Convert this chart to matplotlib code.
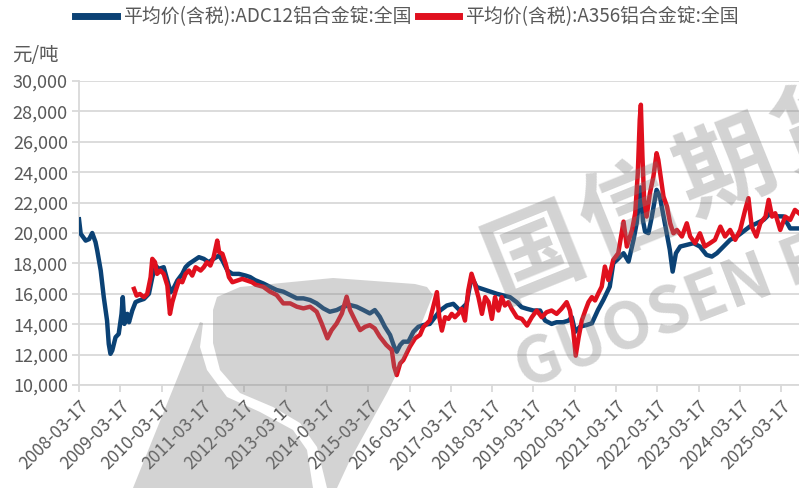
import matplotlib.pyplot as plt
import matplotlib.patches as mpatches
import pandas as pd

plt.rcParams['font.family'] = ['Noto Sans CJK SC', 'DejaVu Sans']

# ── Series: ADC12 alloy ingot, national average incl. tax (元/吨) ─────────────
adc_dates = [
    "2008-03-17", "2008-04-01", "2008-05-15", "2008-06-15", "2008-07-12", "2008-08-10",
    "2008-08-25", "2008-09-25", "2008-10-22", "2008-11-20", "2008-12-05", "2008-12-20",
    "2009-01-05", "2009-02-03", "2009-03-03", "2009-03-28", "2009-04-08", "2009-04-22",
    "2009-05-18", "2009-06-02", "2009-07-01", "2009-07-30", "2009-08-28", "2009-10-12",
    "2009-11-25", "2009-12-25", "2010-01-22", "2010-02-20", "2010-04-05", "2010-05-07",
    "2010-06-05", "2010-07-05", "2010-08-03", "2010-09-16", "2010-10-15", "2010-11-14",
    "2010-12-28", "2011-02-10", "2011-03-25", "2011-05-08", "2011-06-20", "2011-08-08",
    "2011-09-06", "2011-10-20", "2011-12-03", "2012-01-30", "2012-03-28", "2012-05-08",
    "2012-06-20", "2012-09-01", "2012-10-30", "2012-12-28", "2013-02-25", "2013-04-27",
    "2013-06-25", "2013-08-22", "2013-10-20", "2013-12-17", "2014-02-14", "2014-04-12",
    "2014-06-12", "2014-08-10", "2014-10-08", "2014-12-05", "2015-02-03", "2015-04-01",
    "2015-05-15", "2015-06-28", "2015-08-12", "2015-09-27", "2015-11-02", "2015-11-25",
    "2015-12-25", "2016-01-22", "2016-03-07", "2016-04-20", "2016-06-03", "2016-07-16",
    "2016-09-12", "2016-12-12", "2017-02-10", "2017-04-08", "2017-06-05", "2017-08-03",
    "2017-09-16", "2017-11-02", "2017-12-17", "2018-01-30", "2018-03-15", "2018-04-28",
    "2018-06-25", "2018-08-22", "2018-10-20", "2018-12-03", "2019-01-20", "2019-03-17",
    "2019-05-15", "2019-06-28", "2019-08-25", "2019-10-08", "2019-12-05", "2020-01-22",
    "2020-02-20", "2020-03-20", "2020-05-03", "2020-07-01", "2020-08-15", "2020-10-08",
    "2020-11-25", "2021-01-20", "2021-02-20", "2021-03-25", "2021-05-22", "2021-07-05",
    "2021-08-18", "2021-09-15", "2021-10-18", "2021-11-10", "2021-11-28", "2021-12-28",
    "2022-01-25", "2022-03-10", "2022-04-08", "2022-05-22", "2022-07-05", "2022-07-30",
    "2022-08-28", "2022-10-05", "2022-12-02", "2023-01-30", "2023-03-28", "2023-05-25",
    "2023-07-12", "2023-08-25", "2023-10-22", "2023-12-20", "2024-02-17", "2024-04-15",
    "2024-06-12", "2024-08-14", "2024-10-12", "2024-12-10", "2025-02-06", "2025-04-05",
    "2025-06-03", "2025-08-20",
]
adc_vals = [
    20900, 19950, 19500, 19600, 20000, 19400,
    18850, 17530, 15780, 14240, 12700, 12050,
    12270, 13140, 13360, 14680, 15780, 14020,
    14680, 14130, 14900, 15450, 15550, 15660,
    16000, 17090, 17860, 17640, 17750, 16870,
    16100, 16430, 16870, 17310, 17750, 17970,
    18190, 18410, 18300, 18080, 18300, 18520,
    18190, 17530, 17310, 17310, 17200, 17100,
    16900, 16680, 16460, 16250, 16140, 15920,
    15700, 15700, 15590, 15370, 15040, 14820,
    14930, 15150, 15260, 15150, 14930, 14710,
    14930, 14490, 13830, 13290, 12520, 12190,
    12630, 12850, 12850, 13500, 13830, 13940,
    14020, 14900, 15230, 15340, 14900, 15340,
    17100, 16440, 16330, 16220, 16110, 16000,
    15890, 15780, 15450, 15120, 15010, 14900,
    14900, 14240, 14020, 14130, 14130, 14240,
    14460, 13500, 13840, 13950, 14060, 14940,
    15600, 16470, 18010, 18230, 18670, 18120,
    19550, 20650, 23000, 20800, 20100, 19990,
    21000, 22840, 22400, 20650, 18890, 17460,
    18670, 19110, 19220, 19330, 19110, 18560,
    18450, 18670, 19110, 19550, 19770, 20100,
    20430, 20650, 20870, 21300, 21100, 21090,
    20300, 20300,
]

# ── Series: A356 alloy ingot, national average incl. tax (元/吨) ──────────────
a356_dates = [
    "2009-07-16", "2009-08-08", "2009-09-06", "2009-10-12", "2009-11-10", "2009-12-10",
    "2009-12-25", "2010-01-18", "2010-02-05", "2010-03-07", "2010-04-05", "2010-05-07",
    "2010-05-30", "2010-06-20", "2010-07-20", "2010-08-18", "2010-09-16", "2010-10-15",
    "2010-11-14", "2010-12-13", "2011-01-12", "2011-02-25", "2011-03-25", "2011-04-22",
    "2011-05-22", "2011-06-20", "2011-07-22", "2011-08-08", "2011-09-06", "2011-10-05",
    "2011-11-03", "2011-12-03", "2012-01-15", "2012-02-28", "2012-04-12", "2012-05-25",
    "2012-06-25", "2012-09-01", "2012-10-30", "2012-12-28", "2013-02-25", "2013-04-27",
    "2013-06-25", "2013-08-22", "2013-10-20", "2013-12-17", "2014-01-30", "2014-03-22",
    "2014-04-28", "2014-06-12", "2014-07-28", "2014-09-08", "2014-10-08", "2014-11-20",
    "2015-01-05", "2015-02-18", "2015-04-01", "2015-05-15", "2015-06-28", "2015-08-25",
    "2015-10-12", "2015-11-02", "2015-11-25", "2015-12-25", "2016-01-22", "2016-02-20",
    "2016-03-20", "2016-05-05", "2016-06-18", "2016-07-16", "2016-08-14", "2016-09-12",
    "2016-11-14", "2016-12-05", "2016-12-28", "2017-01-25", "2017-02-25", "2017-03-25",
    "2017-04-22", "2017-05-22", "2017-06-20", "2017-07-20", "2017-08-18", "2017-09-16",
    "2017-10-15", "2017-11-16", "2017-12-17", "2018-01-15", "2018-02-14", "2018-03-15",
    "2018-04-12", "2018-05-12", "2018-06-10", "2018-07-08", "2018-08-08", "2018-09-06",
    "2018-10-22", "2018-12-05", "2019-01-20", "2019-03-03", "2019-04-15", "2019-05-30",
    "2019-07-12", "2019-08-25", "2019-10-08", "2019-11-20", "2020-01-05", "2020-02-03",
    "2020-03-03", "2020-03-25", "2020-04-20", "2020-05-18", "2020-06-18", "2020-07-16",
    "2020-08-15", "2020-09-12", "2020-10-12", "2020-11-10", "2020-12-08", "2021-01-08",
    "2021-02-20", "2021-04-05", "2021-05-22", "2021-06-20", "2021-08-05", "2021-09-02",
    "2021-09-25", "2021-10-12", "2021-10-22", "2021-11-05", "2021-11-20", "2021-12-12",
    "2022-01-10", "2022-02-10", "2022-03-10", "2022-03-25", "2022-04-15", "2022-05-10",
    "2022-06-10", "2022-07-08", "2022-08-06", "2022-09-05", "2022-10-20", "2022-12-02",
    "2023-01-01", "2023-02-14", "2023-03-28", "2023-05-10", "2023-06-25", "2023-08-08",
    "2023-09-25", "2023-11-05", "2023-12-20", "2024-02-03", "2024-03-18", "2024-05-01",
    "2024-05-30", "2024-06-28", "2024-08-08", "2024-09-12", "2024-10-28", "2024-11-25",
    "2024-12-25", "2025-01-22", "2025-03-07", "2025-04-20", "2025-06-03", "2025-07-15",
    "2025-08-20",
]
a356_vals = [
    16325, 15880, 15990, 15780, 15990, 17090,
    18300, 18080, 17310, 17530, 17310, 16540,
    14680, 15450, 16210, 16870, 16760, 17310,
    17530, 17200, 17750, 17530, 17750, 18080,
    17860, 18410, 19500, 18740, 18630, 17970,
    17090, 16760, 16870, 16980, 16870, 16760,
    16600, 16460, 16140, 15920, 15370, 15370,
    15150, 15040, 15150, 14820, 14050, 13070,
    13610, 14050, 14710, 15810, 14930, 14270,
    13610, 13830, 13940, 13720, 13180, 12630,
    12300, 11200, 10650, 11420, 11640, 12080,
    12520, 13070, 13300, 13800, 14020, 14240,
    16110, 14460, 13580, 14460, 14350, 14680,
    14460, 14680, 15010, 14240, 16220, 17320,
    16660, 15780, 14680, 15780, 15450, 14350,
    15780, 14900, 15780, 15230, 15450, 15010,
    14460, 14350, 13910, 14460, 14900, 14460,
    14790, 14900, 14680, 15010, 15450, 14900,
    13580, 11930, 13140, 14240, 14900, 15450,
    15780, 15560, 16040, 16470, 17790, 16910,
    18230, 18670, 20750, 19110, 20200, 21300,
    23940, 27450, 28440, 25030, 22180, 21080,
    22620, 23720, 25250, 24820, 23720, 22400,
    21740, 20640, 19980, 20200, 19770, 20640,
    19770, 19330, 19980, 19110, 19330, 19550,
    20420, 19770, 20200, 19550, 20200, 21520,
    22290, 20420, 19770, 20640, 21080, 22180,
    21080, 21300, 20200, 21080, 20860, 21520,
    21300,
]

tick_labels = [f"{y}-03-17" for y in range(2008, 2026)]
y_ticks = list(range(10000, 30001, 2000))

adc_x = pd.to_datetime(adc_dates)
a356_x = pd.to_datetime(a356_dates)
tick_x = pd.to_datetime(tick_labels)

# ── Figure ────────────────────────────────────────────────────────────────────
W, H = 799, 488
fig = plt.figure(figsize=(W / 100, H / 100), dpi=100)
ax = fig.add_axes([79 / W, 1 - 385 / H, 1 - 79 / W, (385 - 81) / H])

grey_txt = "#595959"
grid_c = "#d9d9d9"

l1, = ax.plot(adc_x, adc_vals, color="#0b4275", lw=3.2, solid_joinstyle="round",
              label="平均价(含税):ADC12铝合金锭:全国", zorder=3)
l2, = ax.plot(a356_x, a356_vals, color="#e0101e", lw=3.2, solid_joinstyle="round",
              label="平均价(含税):A356铝合金锭:全国", zorder=4)

ax.set_xlim(pd.Timestamp("2008-03-17"), pd.Timestamp("2025-08-20"))
ax.set_ylim(10000, 30000)
ax.set_yticks(y_ticks)
ax.set_yticklabels([f"{v:,}" for v in y_ticks])
ax.set_xticks(tick_x)
ax.set_xticklabels(tick_labels, rotation=45, ha="right", rotation_mode="anchor")

ax.grid(axis="y", color=grid_c, lw=1.3)
ax.set_axisbelow(True)
for s in ["top", "right"]:
    ax.spines[s].set_visible(False)
for s in ["left", "bottom"]:
    ax.spines[s].set_color(grid_c)
    ax.spines[s].set_linewidth(1.3)
ax.tick_params(axis="both", colors=grid_c, labelcolor=grey_txt,
               length=5, width=1.3)
ax.tick_params(axis="x", pad=4, labelsize=12.5)
ax.tick_params(axis="y", pad=3, labelsize=13)

fig.text(12 / W, 1 - 55 / H, "元/吨", fontsize=14, color=grey_txt, va="center")

fig.legend(handles=[l1, l2], loc="center", bbox_to_anchor=(407 / W, 1 - 17 / H),
           ncol=2, frameon=False, fontsize=13.6, labelcolor=grey_txt,
           handlelength=2.2, handletextpad=0.3, columnspacing=0.35,
           borderaxespad=0, handleheight=0.5)
for h in fig.legends[0].legend_handles:
    h.set_linewidth(5)

# ── Watermark: logo and company name ──────────────────────────────────────────
wm_c, wm_a = "#7f7f7f", 0.34
wm = dict(facecolor=wm_c, edgecolor="none", alpha=wm_a, zorder=10,
          transform=fig.transFigure)

def to_fig(pts):
    return [(x / W, 1 - y / H) for x, y in pts]

left_piece = [(200, 322), (203, 323), (200, 347), (207, 370), (227, 397),
              (260, 412), (293, 430), (307, 450), (313, 488), (133, 488)]
right_piece = [(213, 310), (217, 297), (240, 287), (333, 278), (415, 284),
               (427, 287), (433, 295), (420, 327), (387, 393), (350, 460),
               (337, 488), (327, 488), (317, 447), (300, 423), (273, 407),
               (240, 393), (220, 370), (213, 343)]
fig.patches.append(mpatches.Polygon(to_fig(left_piece), closed=True, **wm))
fig.patches.append(mpatches.Polygon(to_fig(right_piece), closed=True, **wm))

for ch, (cx, cy) in zip("国信期货", [(535, 255), (630, 213), (727, 170), (824, 128)]):
    fig.text(cx / W, 1 - cy / H, ch, fontsize=70, fontweight="bold",
             color=wm_c, alpha=wm_a, rotation=22, rotation_mode="anchor",
             ha="center", va="center", zorder=10)

fig.text(518 / W, 1 - 372 / H, "GUOSEN FUTURES", fontsize=46, fontweight="bold",
         color=wm_c, alpha=wm_a, rotation=21, rotation_mode="anchor",
         ha="left", va="center", zorder=10)

fig.savefig("out.png", dpi=100, facecolor="white")
